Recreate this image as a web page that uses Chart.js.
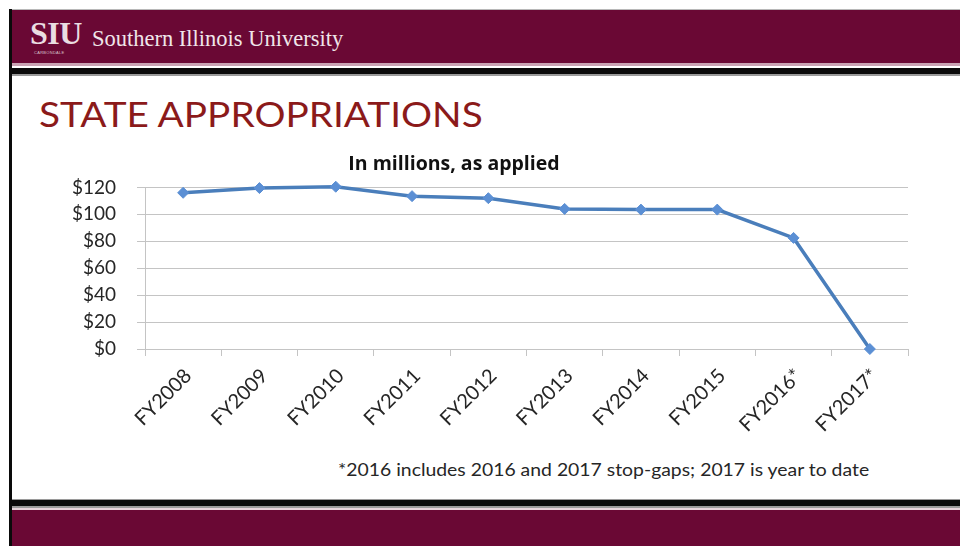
<!DOCTYPE html>
<html>
<head>
<meta charset="utf-8">
<script src="https://cdn.jsdelivr.net/npm/chart.js@4.4.1/dist/chart.umd.min.js"></script>
<style>
  html, body { margin:0; padding:0; background:#fff; }
  body { width:960px; height:546px; position:relative; overflow:hidden; font-family: Lato, "Open Sans", sans-serif; }
  .abs { position:absolute; }
  .stretch { transform: scaleX(1.14); transform-origin: 0 0; white-space: nowrap; }
  #chartWrap { position:absolute; left:0; top:0; width:960px; height:546px; }
</style>
</head>
<body>
<!-- slide decorations -->
<div class="abs" style="left:12px;top:9px;width:948px;height:1px;background:#b8b8b8"></div>
<div class="abs" style="left:12px;top:10px;width:948px;height:53px;background:#6a0834"></div>
<div class="abs" style="left:12px;top:63px;width:948px;height:3px;background:#c9a3b3"></div>
<div class="abs" style="left:12px;top:68px;width:948px;height:6px;background:#0a0a0a"></div>
<div class="abs" style="left:12px;top:74px;width:948px;height:2px;background:#9a9a9a"></div>

<div class="abs" style="left:12px;top:499px;width:948px;height:1px;background:#9a9a9a"></div>
<div class="abs" style="left:12px;top:500px;width:948px;height:6px;background:#0a0a0a"></div>
<div class="abs" style="left:12px;top:506px;width:948px;height:2px;background:#9a9a9a"></div>
<div class="abs" style="left:12px;top:508px;width:948px;height:2px;background:#e6d3da"></div>
<div class="abs" style="left:12px;top:510px;width:948px;height:36px;background:#6a0834"></div>
<div class="abs" style="left:9px;top:9px;width:3px;height:537px;background:#0a0a0a"></div>

<div class="abs" style="left:30px;top:17px;font-family:'Liberation Serif','DejaVu Serif',serif;font-weight:bold;font-size:32px;color:#eadde2;line-height:32px;letter-spacing:-0.5px">SIU</div>
<div class="abs" style="left:34px;top:50px;font-family:'Liberation Sans',sans-serif;font-size:4px;color:#d8c4cc;line-height:5px;letter-spacing:0.3px">CARBONDALE</div>
<div class="abs" style="left:92px;top:25px;font-family:'Liberation Serif','DejaVu Serif',serif;font-size:22.5px;color:#f0e6ea;line-height:28px;">Southern Illinois University</div>

<div class="abs stretch" style="left:39px;top:92px;font-family:Lato,sans-serif;font-size:34px;color:#8b1a1a;line-height:44px;">STATE APPROPRIATIONS</div>

<div class="abs stretch" style="left:338px;top:459px;font-family:Lato,sans-serif;font-size:17px;color:#262626;line-height:22px;">*2016 includes 2016 and 2017 stop-gaps; 2017 is year to date</div>

<div id="chartWrap"><canvas id="c" width="960" height="546"></canvas></div>

<script>
const categories = ["FY2008","FY2009","FY2010","FY2011","FY2012","FY2013","FY2014","FY2015","FY2016*","FY2017*"];
const appropriations = [116, 119.5, 120.5, 113.5, 112, 104, 103.5, 103.5, 82.5, 0];
const yTicks = [0, 20, 40, 60, 80, 100, 120];
const chartTitle = "In millions, as applied";

const gridColor = '#c4c4c4';
new Chart(document.getElementById('c'), {
  type: 'line',
  data: {
    labels: categories,
    datasets: [{
      data: appropriations,
      borderColor: '#4a7ebb',
      borderWidth: 3.5,
      backgroundColor: '#5b8fd4',
      pointBackgroundColor: '#5b8fd4',
      pointBorderColor: '#5b8fd4',
      pointStyle: 'rectRot',
      pointRadius: 5.5,
      pointBorderWidth: 1,
      tension: 0,
      fill: false,
      clip: false
    }]
  },
  options: {
    responsive: false,
    animation: false,
    devicePixelRatio: 1,
    layout: { padding: { left: 0, right: 52, top: 0, bottom: 0 } },
    plugins: {
      legend: { display: false },
      tooltip: { enabled: false },
      title: {
        display: true,
        text: chartTitle,
        color: '#111',
        font: { family: 'Open Sans', size: 19.5, weight: 'bold', lineHeight: 1.2 },
        padding: { top: 153, bottom: 11 }
      }
    },
    scales: {
      x: {
        offset: true,
        grid: { offset: true, drawOnChartArea: false, drawTicks: true, tickLength: 7, color: gridColor, lineWidth: 1 },
        border: { color: gridColor, width: 1 },
        ticks: {
          autoSkip: false, maxRotation: 45, minRotation: 45,
          color: '#262626', padding: 8, labelOffset: 5,
          font: { family: 'Lato', size: 20 }
        },
        afterFit: (s) => { s.height = 546 - 349; }
      },
      y: {
        min: 0, max: 120,
        afterBuildTicks: (s) => { s.ticks = yTicks.map(v => ({ value: v })); },
        grid: { color: gridColor, lineWidth: 1, tickLength: 8, drawTicks: true },
        border: { color: gridColor, width: 1 },
        ticks: {
          color: '#262626', padding: 21,
          font: { family: 'Lato', size: 19 },
          callback: (v) => '$' + v
        },
        afterFit: (s) => { s.width = 145; }
      }
    }
  }
});
</script>
</body>
</html>
